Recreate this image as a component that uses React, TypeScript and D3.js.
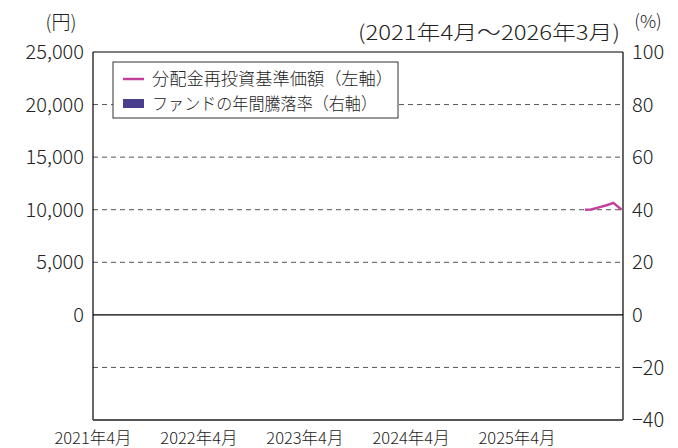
import React from "react";
import * as d3 from "d3";

const navDates = ["2025-11-21", "2025-12-12", "2026-01-05", "2026-02-01", "2026-02-27", "2026-03-27"];
const navValues = [10000, 10020, 10200, 10400, 10650, 10000];
const leftTicks = [0, 5000, 10000, 15000, 20000, 25000];
const rightTicks = [-40, -20, 0, 20, 40, 60, 80, 100];
const xTickDates = ["2021-04-01", "2022-04-01", "2023-04-01", "2024-04-01", "2025-04-01"];
const xTickLabels = ["2021年4月", "2022年4月", "2023年4月", "2024年4月", "2025年4月"];
const legendLabels = ["分配金再投資基準価額（左軸）", "ファンドの年間騰落率（右軸）"];

const W = 678, H = 448;
const M = { left: 93, right: 623, top: 52, bottom: 420 };
const FONT = "'Noto Sans CJK JP', 'Noto Sans', sans-serif";
const PINK = "#c2409a";
const PURPLE = "#4a3f8c";

export default function App() {
  const parse = d3.timeParse("%Y-%m-%d");
  const x = d3.scaleTime()
    .domain([parse("2021-04-01")!, parse("2026-04-01")!])
    .range([M.left, M.right]);
  const yR = d3.scaleLinear().domain([-40, 100]).range([M.bottom, M.top]);
  const yL = d3.scaleLinear().domain([-10000, 25000]).range([M.bottom, M.top]);

  const pts = navDates.map((d, i) => [x(parse(d)!), yL(navValues[i])] as [number, number]);
  const line = d3.line<[number, number]>().x(d => d[0]).y(d => d[1]).curve(d3.curveLinear)(pts) || "";

  const fmt = d3.format(",");

  return (
    <svg width={W} height={H} style={{ position: "absolute", left: 0, top: 0, background: "#fff" }}
      fontFamily={FONT} fontWeight={300}>
      <rect x={0} y={0} width={W} height={H} fill="#fff" />
      {rightTicks.filter(t => t !== 0 && t !== -40 && t !== 100).map(t => (
        <line key={"g" + t} x1={M.left} x2={M.right} y1={yR(t)} y2={yR(t)}
          stroke="#555" strokeWidth={1} strokeDasharray="5,4" />
      ))}
      <line x1={M.left} x2={M.right} y1={yR(0)} y2={yR(0)} stroke="#000" strokeWidth={1.2} />
      <line x1={M.left} x2={M.right} y1={M.top} y2={M.top} stroke="#000" strokeWidth={1.2} />
      <line x1={M.left} x2={M.left} y1={M.top} y2={M.bottom} stroke="#000" strokeWidth={1.2} />
      <line x1={M.right} x2={M.right} y1={M.top} y2={M.bottom} stroke="#000" strokeWidth={1.2} />
      <line x1={M.left} x2={M.right} y1={M.bottom} y2={M.bottom} stroke="#555" strokeWidth={2} />

      <path d={line} fill="none" stroke={PINK} strokeWidth={2.5} strokeLinejoin="round" />

      {leftTicks.map(t => (
        <text key={"l" + t} x={84} y={yL(t)} dy="0.36em" textAnchor="end" fontSize={20} fill="#222">{fmt(t)}</text>
      ))}
      {rightTicks.map(t => (
        <text key={"r" + t} x={632} y={yR(t)} dy="0.36em" textAnchor="start" fontSize={20} fill="#222">
          {t < 0 ? "−" + Math.abs(t) : String(t)}
        </text>
      ))}
      {xTickDates.map((d, i) => (
        <text key={"x" + d} x={x(parse(d)!)} y={444} textAnchor="middle" fontSize={16.5} fill="#222">{xTickLabels[i]}</text>
      ))}

      <text x={61} y={22} dy="0.36em" textAnchor="middle" fontSize={19} fill="#222">(円)</text>
      <text x={648} y={22} dy="0.36em" textAnchor="middle" fontSize={18} fill="#222">(%)</text>
      <text x={358} y={33} dy="0.36em" textAnchor="start" fontSize={20.5} fill="#222"
        textLength={262} lengthAdjust="spacingAndGlyphs">(2021年4月～2026年3月)</text>

      <rect x={113} y={62} width={285} height={56} fill="#fff" stroke="#333" strokeWidth={1} />
      <line x1={123} x2={144} y1={79} y2={79} stroke={PINK} strokeWidth={2.5} />
      <rect x={123} y={99} width={21} height={9} fill={PURPLE} />
      <text x={152} y={79} dy="0.36em" fontSize={17} fill="#222" textLength={241} lengthAdjust="spacingAndGlyphs">{legendLabels[0]}</text>
      <text x={152} y={104} dy="0.36em" fontSize={17} fill="#222" textLength={225} lengthAdjust="spacingAndGlyphs">{legendLabels[1]}</text>
    </svg>
  );
}
